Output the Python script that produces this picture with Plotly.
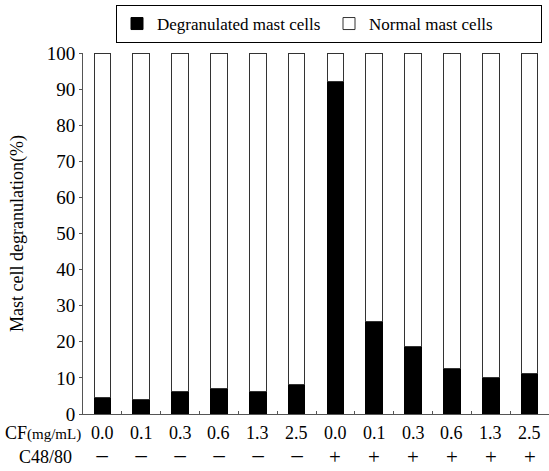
import plotly.graph_objects as go

cf_labels = ["0.0", "0.1", "0.3", "0.6", "1.3", "2.5", "0.0", "0.1", "0.3", "0.6", "1.3", "2.5"]
c48_labels = ["−", "−", "−", "−", "−", "−", "+", "+", "+", "+", "+", "+"]
degranulated = [4.5, 4.1, 6.3, 7.1, 6.2, 8.1, 92.2, 25.5, 18.6, 12.5, 10.2, 11.1]
normal = [100 - v for v in degranulated]
y_ticks = [0, 10, 20, 30, 40, 50, 60, 70, 80, 90, 100]

x = list(range(len(cf_labels)))
FONT = "Times New Roman"

fig = go.Figure()
fig.add_trace(go.Bar(x=x, y=degranulated, name="Degranulated mast cells",
                     marker=dict(color="black", line=dict(color="black", width=1)),
                     width=0.43))
fig.add_trace(go.Bar(x=x, y=normal, name="Normal mast cells",
                     marker=dict(color="white", line=dict(color="#333", width=1)),
                     width=0.43))

annotations = []
for i, (c, s) in enumerate(zip(cf_labels, c48_labels)):
    annotations.append(dict(x=i, y=0, xref="x", yref="paper", text=c, showarrow=False,
                            yanchor="middle", yshift=-19,
                            font=dict(size=18, color="black", family=FONT)))
    annotations.append(dict(x=i, y=0, xref="x", yref="paper", text=s, showarrow=False,
                            yanchor="middle", yshift=-43 if s == "+" else -42,
                            font=dict(size=21 if s == "+" else 25, color="black", family=FONT)))
annotations.append(dict(x=0, y=0, xref="paper", yref="paper", xanchor="right", yanchor="middle",
                        text="CF<span style='font-size:15px'>(mg/mL)</span>", showarrow=False,
                        xshift=0, yshift=-19, font=dict(size=18, color="black", family=FONT)))
annotations.append(dict(x=0, y=0, xref="paper", yref="paper", xanchor="right", yanchor="middle",
                        text="C48/80", showarrow=False,
                        xshift=-9, yshift=-43, font=dict(size=18, color="black", family=FONT)))

fig.update_layout(
    width=549, height=471,
    margin=dict(l=83, r=0, t=53, b=57),
    barmode="stack",
    plot_bgcolor="white", paper_bgcolor="white",
    font=dict(family=FONT, color="black", size=17),
    showlegend=True,
    legend=dict(orientation="h", x=0.985, xanchor="right", y=1.133, yanchor="top",
                bordercolor="black", borderwidth=1, font=dict(size=17, family=FONT),
                traceorder="normal", entrywidth=167, itemwidth=30,
                bgcolor="white"),
    xaxis=dict(range=[-0.5, len(x) - 0.5], tickvals=[i + 0.5 for i in x], ticks="inside",
               ticklen=3, tickcolor="#555", showticklabels=False, showline=True,
               linecolor="#555", linewidth=1, showgrid=False, zeroline=False),
    yaxis=dict(range=[0, 100], tickvals=y_ticks, ticks="outside", ticklen=3, tickcolor="#555",
               showline=True, linecolor="#555", linewidth=1, showgrid=False, zeroline=False,
               tickfont=dict(size=19, family=FONT),
               title=dict(text="Mast cell degranulation(%)", standoff=18,
                          font=dict(size=18, family=FONT))),
    annotations=annotations,
)

fig.write_html("out.html")
